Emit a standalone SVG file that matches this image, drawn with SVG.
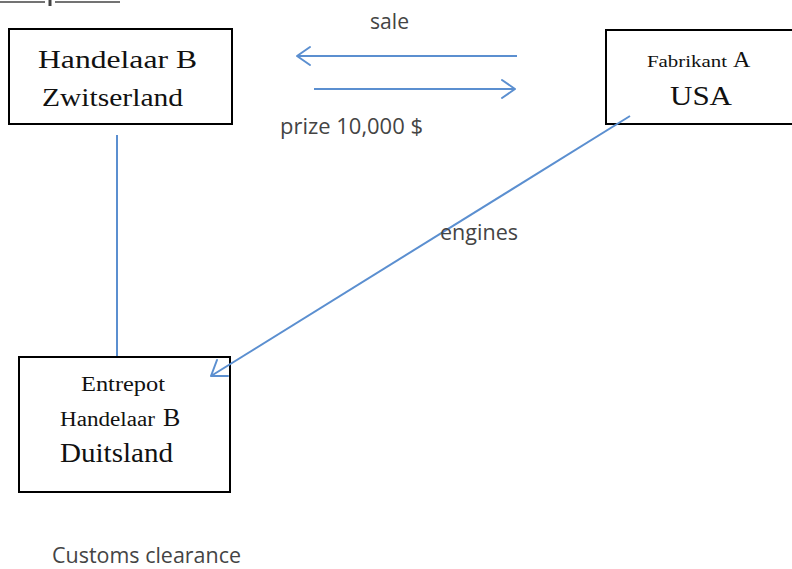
<svg xmlns="http://www.w3.org/2000/svg" width="792" height="569" viewBox="0 0 792 569">
<style>
.box{fill:#fff;stroke:#000;stroke-width:2}
.serif{font-family:"Liberation Serif","Times New Roman",serif;fill:#111}
.lbl{font-family:"Open Sans","Noto Sans",sans-serif;font-size:21px;fill:#444}
.conn{stroke:#5b8fd0;stroke-width:2;fill:none}
.head{stroke:#5b8fd0;stroke-width:2;fill:none;stroke-linecap:round;stroke-linejoin:round}
</style>
<rect width="792" height="569" fill="#fff"/>
<g id="topline" stroke="#444" stroke-width="1.5">
<line x1="0" y1="2" x2="45" y2="2"/>
<line x1="50" y1="0" x2="50" y2="6" stroke-width="3"/>
<line x1="55" y1="2" x2="120" y2="2"/>
</g>
<g id="handelaar-b">
<rect class="box" x="9" y="29" width="223" height="95"/>
<text class="serif" x="38" y="68" font-size="26" textLength="159" lengthAdjust="spacingAndGlyphs">Handelaar  B</text>
<text class="serif" x="42" y="106" font-size="26" textLength="141" lengthAdjust="spacingAndGlyphs">Zwitserland</text>
</g>
<g id="fabrikant-a">
<rect class="box" x="606" y="30" width="190" height="94"/>
<text class="serif" x="647" y="67" font-size="16" textLength="80" lengthAdjust="spacingAndGlyphs">Fabrikant</text>
<text class="serif" x="733" y="67" font-size="24">A</text>
<text class="serif" x="670" y="105" font-size="27" textLength="62" lengthAdjust="spacingAndGlyphs">USA</text>
</g>
<g id="entrepot">
<rect class="box" x="19" y="357" width="211" height="135"/>
<text class="serif" x="81" y="391" font-size="21" textLength="84" lengthAdjust="spacingAndGlyphs">Entrepot</text>
<text class="serif" x="60" y="426" font-size="20" textLength="95" lengthAdjust="spacingAndGlyphs">Handelaar</text>
<text class="serif" x="163" y="426" font-size="26">B</text>
<text class="serif" x="60" y="462" font-size="28" textLength="113" lengthAdjust="spacingAndGlyphs">Duitsland</text>
</g>
<g id="connectors">
<line class="conn" x1="517" y1="56" x2="297" y2="56"/>
<polyline class="head" points="310,47 297,56 310,65"/>
<line class="conn" x1="314" y1="89" x2="515" y2="89"/>
<polyline class="head" points="502,80 515,89 502,98"/>
<line class="conn" x1="117" y1="135" x2="117" y2="356"/>
<line class="conn" x1="630" y1="116" x2="211" y2="376" stroke-width="1.5"/>
<polyline class="head" points="217,360 211,376 228,376"/>
</g>
<g id="labels">
<text class="lbl" x="370" y="29" textLength="39" lengthAdjust="spacingAndGlyphs">sale</text>
<text class="lbl" x="280" y="134" textLength="143" lengthAdjust="spacingAndGlyphs">prize 10,000 $</text>
<text class="lbl" x="440" y="240" textLength="78" lengthAdjust="spacingAndGlyphs">engines</text>
<text class="lbl" x="52" y="563" textLength="189" lengthAdjust="spacingAndGlyphs">Customs clearance</text>
</g>
</svg>
